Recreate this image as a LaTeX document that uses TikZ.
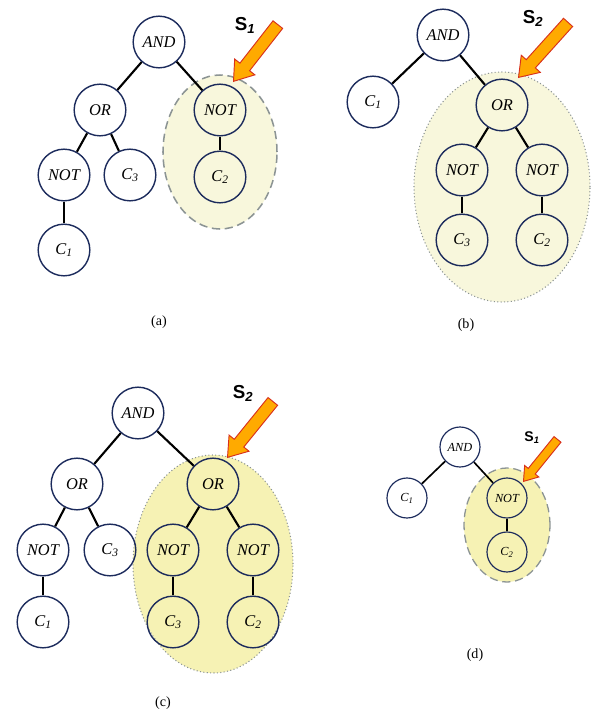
\documentclass[tikz,border=0pt]{standalone}
\usepackage{fontspec}
\setmainfont{Liberation Serif}
\newfontfamily\labelfont{Liberation Sans}
\usetikzlibrary{shapes.arrows}

\definecolor{gatenavy}{HTML}{1C2B5C}
\definecolor{paleyellow}{HTML}{F8F7DC}
\definecolor{deepyellow}{HTML}{F6F2B4}
\definecolor{arroworange}{HTML}{FFAA00}
\definecolor{arrowred}{HTML}{D8301C}
\definecolor{rimgray}{HTML}{8C9494}

\tikzset{
  gate/.style={circle, draw=gatenavy, line width=1.2pt, minimum size=1.55cm, inner sep=0pt,
    font=\fontsize{14}{16}\selectfont\itshape},
  smallgate/.style={gate, line width=1pt, minimum size=1.2cm, font=\fontsize{10.5}{12}\selectfont\itshape},
  edge/.style={line width=1.8pt, black},
  pointer/.style={single arrow, fill=arroworange, draw=arrowred, line width=0.8pt, inner xsep=0pt,
    inner ysep=0.17cm, single arrow head extend=0.2cm, single arrow tip angle=70, anchor=tip},
  dashrim/.style={draw=rimgray, line width=1.3pt, dash pattern=on 7pt off 4pt},
  dotrim/.style={draw=rimgray, line width=0.9pt, dotted},
  caption/.style={font=\fontsize{12}{14}\selectfont},
  sublabel/.style={font=\labelfont\bfseries\fontsize{16}{18}\selectfont}
}
\newcommand{\cvar}[1]{C\textsubscript{#1}}

\begin{document}
\begin{tikzpicture}[x=0.03cm, y=-0.03cm]
\fill[white] (0,0) rectangle (594,717);
\useasboundingbox (0,0) rectangle (594,717);

% (a) subtree S1 = NOT C2
\draw[dashrim, fill=paleyellow] (220,152) ellipse [x radius=1.71cm, y radius=2.31cm];
\node[gate] (aAnd) at (159,42) {AND};
\node[gate] (aOr) at (100,110) {OR};
\node[gate] (aNotL) at (64,175) {NOT};
\node[gate] (aC3) at (130,175) {\cvar{3}};
\node[gate] (aC1) at (64,250) {\cvar{1}};
\node[gate] (aNotR) at (220,110) {NOT};
\node[gate] (aC2) at (220,177) {\cvar{2}};
\draw[edge] (aAnd) -- (aOr);
\draw[edge] (aAnd) -- (aNotR);
\draw[edge] (aOr) -- (aNotL);
\draw[edge] (aOr) -- (aC3);
\draw[edge] (aNotL) -- (aC1);
\draw[edge] (aNotR) -- (aC2);
\node[pointer, rotate=232, minimum height=2.16cm] (aArrow) at (233,82) {};
\node[sublabel] (aS) at (245,25) {S\textsubscript{\textit{1}}};
\node[caption] (aCap) at (159,322) {(a)};

% (b) subtree S2 = OR(NOT C3, NOT C2)
\draw[dotrim, fill=paleyellow] (502,187) ellipse [x radius=2.64cm, y radius=3.45cm];
\node[gate] (bAnd) at (443,35) {AND};
\node[gate] (bC1) at (373,102) {\cvar{1}};
\node[gate] (bOr) at (502,105) {OR};
\node[gate] (bNotL) at (462,170) {NOT};
\node[gate] (bNotR) at (542,170) {NOT};
\node[gate] (bC3) at (462,240) {\cvar{3}};
\node[gate] (bC2) at (542,240) {\cvar{2}};
\draw[edge] (bAnd) -- (bC1);
\draw[edge] (bAnd) -- (bOr);
\draw[edge] (bOr) -- (bNotL);
\draw[edge] (bOr) -- (bNotR);
\draw[edge] (bNotL) -- (bC3);
\draw[edge] (bNotR) -- (bC2);
\node[pointer, rotate=228, minimum height=2.22cm] (bArrow) at (518,78) {};
\node[sublabel] (bS) at (533,18) {S\textsubscript{\textit{2}}};
\node[caption] (bCap) at (466,325) {(b)};

% (c) S2 grafted into the first tree
\draw[dotrim, fill=deepyellow] (213,564) ellipse [x radius=2.4cm, y radius=3.27cm];
\node[gate] (cAnd) at (138,413) {AND};
\node[gate] (cOrL) at (77,484) {OR};
\node[gate] (cOrR) at (213,484) {OR};
\node[gate] (cNotA) at (43,550) {NOT};
\node[gate] (cC3a) at (110,550) {\cvar{3}};
\node[gate] (cNotB) at (173,550) {NOT};
\node[gate] (cNotC) at (253,550) {NOT};
\node[gate] (cC1) at (43,622) {\cvar{1}};
\node[gate] (cC3b) at (173,622) {\cvar{3}};
\node[gate] (cC2) at (253,622) {\cvar{2}};
\draw[edge] (cAnd) -- (cOrL);
\draw[edge] (cAnd) -- (cOrR);
\draw[edge] (cOrL) -- (cNotA);
\draw[edge] (cOrL) -- (cC3a);
\draw[edge] (cNotA) -- (cC1);
\draw[edge] (cOrR) -- (cNotB);
\draw[edge] (cOrR) -- (cNotC);
\draw[edge] (cNotB) -- (cC3b);
\draw[edge] (cNotC) -- (cC2);
\node[pointer, rotate=231, minimum height=2.16cm] (cArrow) at (227,458) {};
\node[sublabel] (cS) at (243,393) {S\textsubscript{\textit{2}}};
\node[caption] (cCap) at (163,703) {(c)};

% (d) S1 grafted into the second tree
\draw[dashrim, line width=1.1pt, fill=deepyellow] (507,525) ellipse [x radius=1.29cm, y radius=1.71cm];
\node[smallgate] (dAnd) at (460,447) {AND};
\node[smallgate] (dC1) at (407,498) {\cvar{1}};
\node[smallgate] (dNot) at (507,498) {NOT};
\node[smallgate] (dC2) at (507,552) {\cvar{2}};
\draw[edge, line width=1.4pt] (dAnd) -- (dC1);
\draw[edge, line width=1.4pt] (dAnd) -- (dNot);
\draw[edge, line width=1.4pt] (dNot) -- (dC2);
\node[pointer, rotate=231, minimum height=1.62cm, inner ysep=0.12cm,
  single arrow head extend=0.14cm] (dArrow) at (523,482) {};
\node[sublabel, font=\labelfont\bfseries\fontsize{12}{14}\selectfont] (dS) at (532,438) {S\textsubscript{\textit{1}}};
\node[caption] (dCap) at (475,655) {(d)};
\end{tikzpicture}
\end{document}
